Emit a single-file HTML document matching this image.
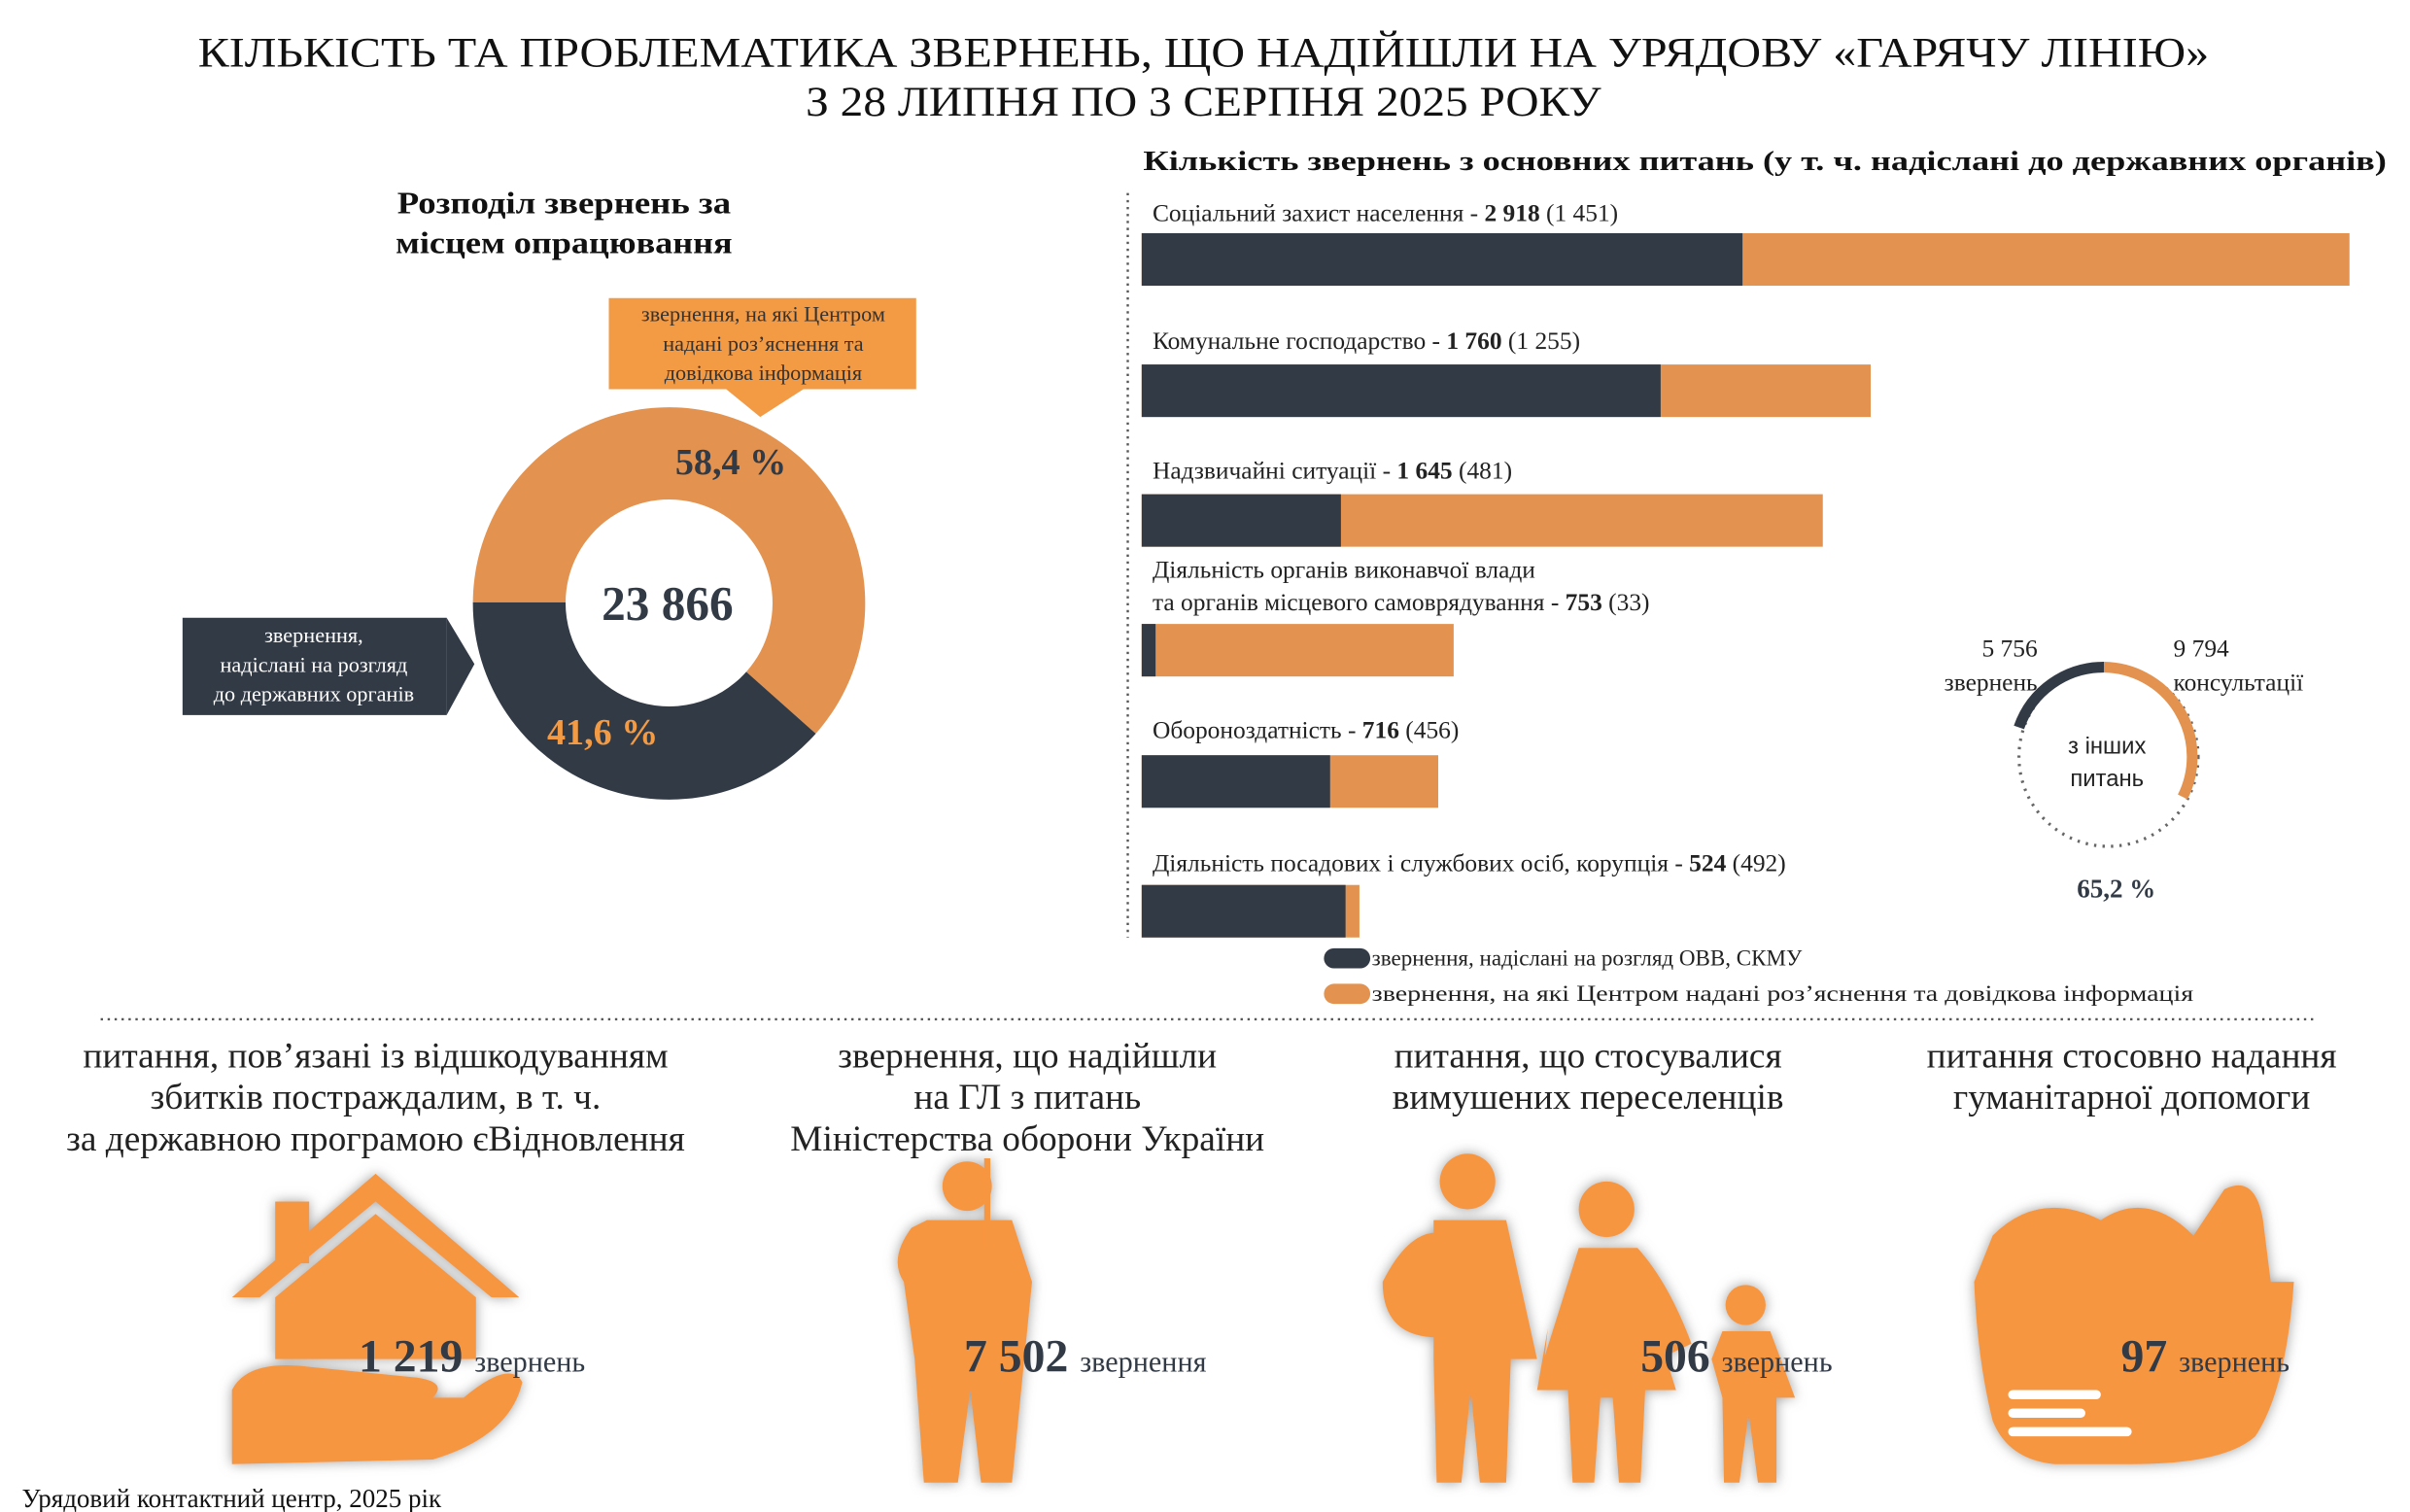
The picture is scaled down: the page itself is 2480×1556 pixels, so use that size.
<!DOCTYPE html>
<html><head><meta charset="utf-8"><style>html,body{margin:0;padding:0;background:#fff}svg{display:block}</style></head>
<body>
<svg xmlns="http://www.w3.org/2000/svg" width="2480" height="1556" viewBox="0 0 1560 979" font-family="'Liberation Serif', serif">
<rect width="1560" height="979" fill="#fff"/>
<text x="779" y="43" font-size="27" text-anchor="middle" fill="#111" textLength="1302" lengthAdjust="spacingAndGlyphs">КІЛЬКІСТЬ ТА ПРОБЛЕМАТИКА ЗВЕРНЕНЬ, ЩО НАДІЙШЛИ НА УРЯДОВУ «ГАРЯЧУ ЛІНІЮ»</text>
<text x="779" y="75" font-size="27" text-anchor="middle" fill="#111" textLength="515" lengthAdjust="spacingAndGlyphs">З 28 ЛИПНЯ ПО 3 СЕРПНЯ 2025 РОКУ</text>
<text x="740" y="110" font-size="18" font-weight="bold" fill="#111" textLength="805" lengthAdjust="spacingAndGlyphs">Кількість звернень з основних питань (у т. ч. надіслані до державних органів)</text>
<text x="365" y="138" font-size="20" font-weight="bold" text-anchor="middle" fill="#111" textLength="216" lengthAdjust="spacingAndGlyphs">Розподіл звернень за</text>
<text x="365" y="164" font-size="20" font-weight="bold" text-anchor="middle" fill="#111" textLength="218" lengthAdjust="spacingAndGlyphs">місцем опрацювання</text>
<!-- Donut -->
<path d="M306 390 A127 127 0 1 1 528 475 L483 435 A67 67 0 1 0 366 390 Z" fill="#e3934f"/>
<path d="M306 390 A127 127 0 0 0 528 475 L483 435 A67 67 0 0 1 366 390 Z" fill="#323a46"/>
<text x="432" y="401" font-size="31" font-weight="bold" text-anchor="middle" fill="#323a46">23 866</text>
<text x="473" y="307" font-size="24" font-weight="bold" text-anchor="middle" fill="#323a46">58,4 %</text>
<text x="390" y="482" font-size="24" font-weight="bold" text-anchor="middle" fill="#f39a45">41,6 %</text>
<rect x="394" y="193" width="199" height="59" fill="#f39a45"/>
<path d="M470 252 L520 252 L492 270 Z" fill="#f39a45"/>
<text font-size="14" fill="#333" text-anchor="middle"><tspan x="494" y="208">звернення, на які Центром</tspan><tspan x="494" y="227">надані роз’яснення та</tspan><tspan x="494" y="246">довідкова інформація</tspan></text>
<rect x="118" y="400" width="171" height="63" fill="#323a46"/>
<path d="M289 400 L307 430 L289 463 Z" fill="#323a46"/>
<text font-size="14" fill="#fff" text-anchor="middle"><tspan x="203" y="416">звернення,</tspan><tspan x="203" y="435">надіслані на розгляд</tspan><tspan x="203" y="454">до державних органів</tspan></text>
<!-- bars -->
<line x1="730" y1="125" x2="730" y2="607" stroke="#555" stroke-width="1.5" stroke-dasharray="1.5 3"/>
<g font-size="16" fill="#222">
<text x="746" y="143">Соціальний захист населення - <tspan font-weight="bold">2 918</tspan> (1 451)</text>
<text x="746" y="226">Комунальне господарство - <tspan font-weight="bold">1 760</tspan> (1 255)</text>
<text x="746" y="310">Надзвичайні ситуації - <tspan font-weight="bold">1 645</tspan> (481)</text>
<text x="746" y="374">Діяльність органів виконавчої влади</text>
<text x="746" y="395">та органів місцевого самоврядування - <tspan font-weight="bold">753</tspan> (33)</text>
<text x="746" y="478">Обороноздатність - <tspan font-weight="bold">716</tspan> (456)</text>
<text x="746" y="564">Діяльність посадових і службових осіб, корупція - <tspan font-weight="bold">524</tspan> (492)</text>
</g>
<g>
<rect x="739" y="151" width="782" height="34" fill="#e3934f"/><rect x="739" y="151" width="389" height="34" fill="#323a46"/>
<rect x="739" y="236" width="472" height="34" fill="#e3934f"/><rect x="739" y="236" width="336" height="34" fill="#323a46"/>
<rect x="739" y="320" width="441" height="34" fill="#e3934f"/><rect x="739" y="320" width="129" height="34" fill="#323a46"/>
<rect x="739" y="404" width="202" height="34" fill="#e3934f"/><rect x="739" y="404" width="9" height="34" fill="#323a46"/>
<rect x="739" y="489" width="192" height="34" fill="#e3934f"/><rect x="739" y="489" width="122" height="34" fill="#323a46"/>
<rect x="739" y="573" width="141" height="34" fill="#e3934f"/><rect x="739" y="573" width="132" height="34" fill="#323a46"/>
</g>
<rect x="857" y="614" width="30" height="13" rx="6.5" fill="#323a46"/>
<rect x="857" y="637" width="30" height="13" rx="6.5" fill="#e3934f"/>
<text x="888" y="625" font-size="14.5" fill="#222">звернення, надіслані на розгляд ОВВ, СКМУ</text>
<text x="888" y="648" font-size="14.5" fill="#222" textLength="532" lengthAdjust="spacingAndGlyphs">звернення, на які Центром надані роз’яснення та довідкова інформація</text>
<!-- small donut -->
<circle cx="1365" cy="490" r="58" fill="none" stroke="#666" stroke-width="2" stroke-dasharray="1.5 4"/>
<path d="M1307 471 A58 58 0 0 1 1362 432" fill="none" stroke="#323a46" stroke-width="7"/>
<path d="M1362 432 A58 58 0 0 1 1413 516" fill="none" stroke="#e3934f" stroke-width="7"/>
<text x="1364" y="488" font-size="15" text-anchor="middle" font-family="'Liberation Sans', sans-serif" fill="#222">з інших</text>
<text x="1364" y="509" font-size="15" text-anchor="middle" font-family="'Liberation Sans', sans-serif" fill="#222">питань</text>
<text x="1319" y="425" font-size="16" text-anchor="end" fill="#222">5 756</text>
<text x="1319" y="447" font-size="16" text-anchor="end" fill="#222">звернень</text>
<text x="1407" y="425" font-size="16" fill="#222">9 794</text>
<text x="1407" y="447" font-size="16" fill="#222">консультації</text>
<text x="1370" y="581" font-size="17" font-weight="bold" text-anchor="middle" fill="#323a46">65,2 %</text>
<line x1="65" y1="660" x2="1500" y2="660" stroke="#555" stroke-width="1.5" stroke-dasharray="1.5 3"/>
<g font-size="23.5" fill="#222" text-anchor="middle">
<text x="243" y="691">питання, пов’язані із відшкодуванням</text>
<text x="243" y="718">збитків постраждалим, в т. ч.</text>
<text x="243" y="745">за державною програмою єВідновлення</text>
<text x="665" y="691">звернення, що надійшли</text>
<text x="665" y="718">на ГЛ з питань</text>
<text x="665" y="745">Міністерства оборони України</text>
<text x="1028" y="691">питання, що стосувалися</text>
<text x="1028" y="718">вимушених переселенців</text>
<text x="1380" y="691">питання стосовно надання</text>
<text x="1380" y="718">гуманітарної допомоги</text>
</g>
<defs><filter id="sh" x="-20%" y="-20%" width="140%" height="140%"><feDropShadow dx="0" dy="0" stdDeviation="4" flood-color="#777" flood-opacity="0.7"/></filter></defs>
<g fill="#f7963f" filter="url(#sh)">
<path d="M150 840 L243 760 L336 840 L318 840 L243 778 L168 840 Z"/>
<rect x="178" y="778" width="22" height="40"/>
<path d="M178 840 L243 786 L308 840 L308 880 L178 880 Z"/>
<path d="M150 900 Q160 880 200 885 L270 892 Q290 895 280 905 L240 905 L300 905 Q330 880 338 895 Q330 930 280 945 L150 948 Z"/>
<circle cx="626" cy="768" r="16"/>
<path d="M600 790 L655 790 L668 830 L663 880 L655 960 L635 960 L628 900 L620 960 L598 960 L592 880 L585 830 Q575 815 590 795 Z"/>
<rect x="637" y="750" width="4" height="60"/>
<circle cx="950" cy="765" r="18"/>
<path d="M928 790 L975 790 L995 880 L978 880 L975 960 L958 960 L952 900 L946 960 L930 960 L928 880 Z"/>
<path d="M895 830 Q915 790 940 800 Q960 830 955 850 Q950 870 920 865 Q895 860 895 830 Z"/>
<circle cx="1040" cy="783" r="18"/>
<path d="M1022 808 L1060 808 Q1080 830 1095 870 L1078 878 L1085 900 L1065 900 L1062 960 L1048 960 L1044 905 L1036 905 L1032 960 L1018 960 L1015 900 L995 900 L1002 860 L1000 878 Z"/>
<circle cx="1130" cy="845" r="13"/>
<path d="M1115 862 L1146 862 L1162 905 L1150 905 L1150 960 L1138 960 L1132 915 L1126 960 L1116 960 L1115 905 L1108 880 Z"/>
<path d="M1290 800 Q1320 770 1360 790 Q1390 770 1420 800 L1440 770 Q1460 760 1465 790 L1470 830 L1485 830 Q1480 900 1460 930 Q1440 948 1380 948 L1330 948 Q1300 945 1290 920 Q1280 880 1278 830 Z"/>
</g>
<g fill="#fff"><rect x="1300" y="900" width="60" height="6" rx="3"/><rect x="1300" y="912" width="50" height="6" rx="3"/><rect x="1300" y="924" width="80" height="6" rx="3"/></g>
<text x="232" y="888" font-size="30" font-weight="bold" fill="#323a46">1 219 <tspan font-size="19" font-weight="normal">звернень</tspan></text>
<text x="624" y="888" font-size="30" font-weight="bold" fill="#323a46">7 502 <tspan font-size="19" font-weight="normal">звернення</tspan></text>
<text x="1062" y="888" font-size="30" font-weight="bold" fill="#323a46">506 <tspan font-size="19" font-weight="normal">звернень</tspan></text>
<text x="1373" y="888" font-size="30" font-weight="bold" fill="#323a46">97 <tspan font-size="19" font-weight="normal">звернень</tspan></text>
<text x="14" y="976" font-size="17" fill="#111">Урядовий контактний центр, 2025 рік</text>
</svg>
</body></html>
